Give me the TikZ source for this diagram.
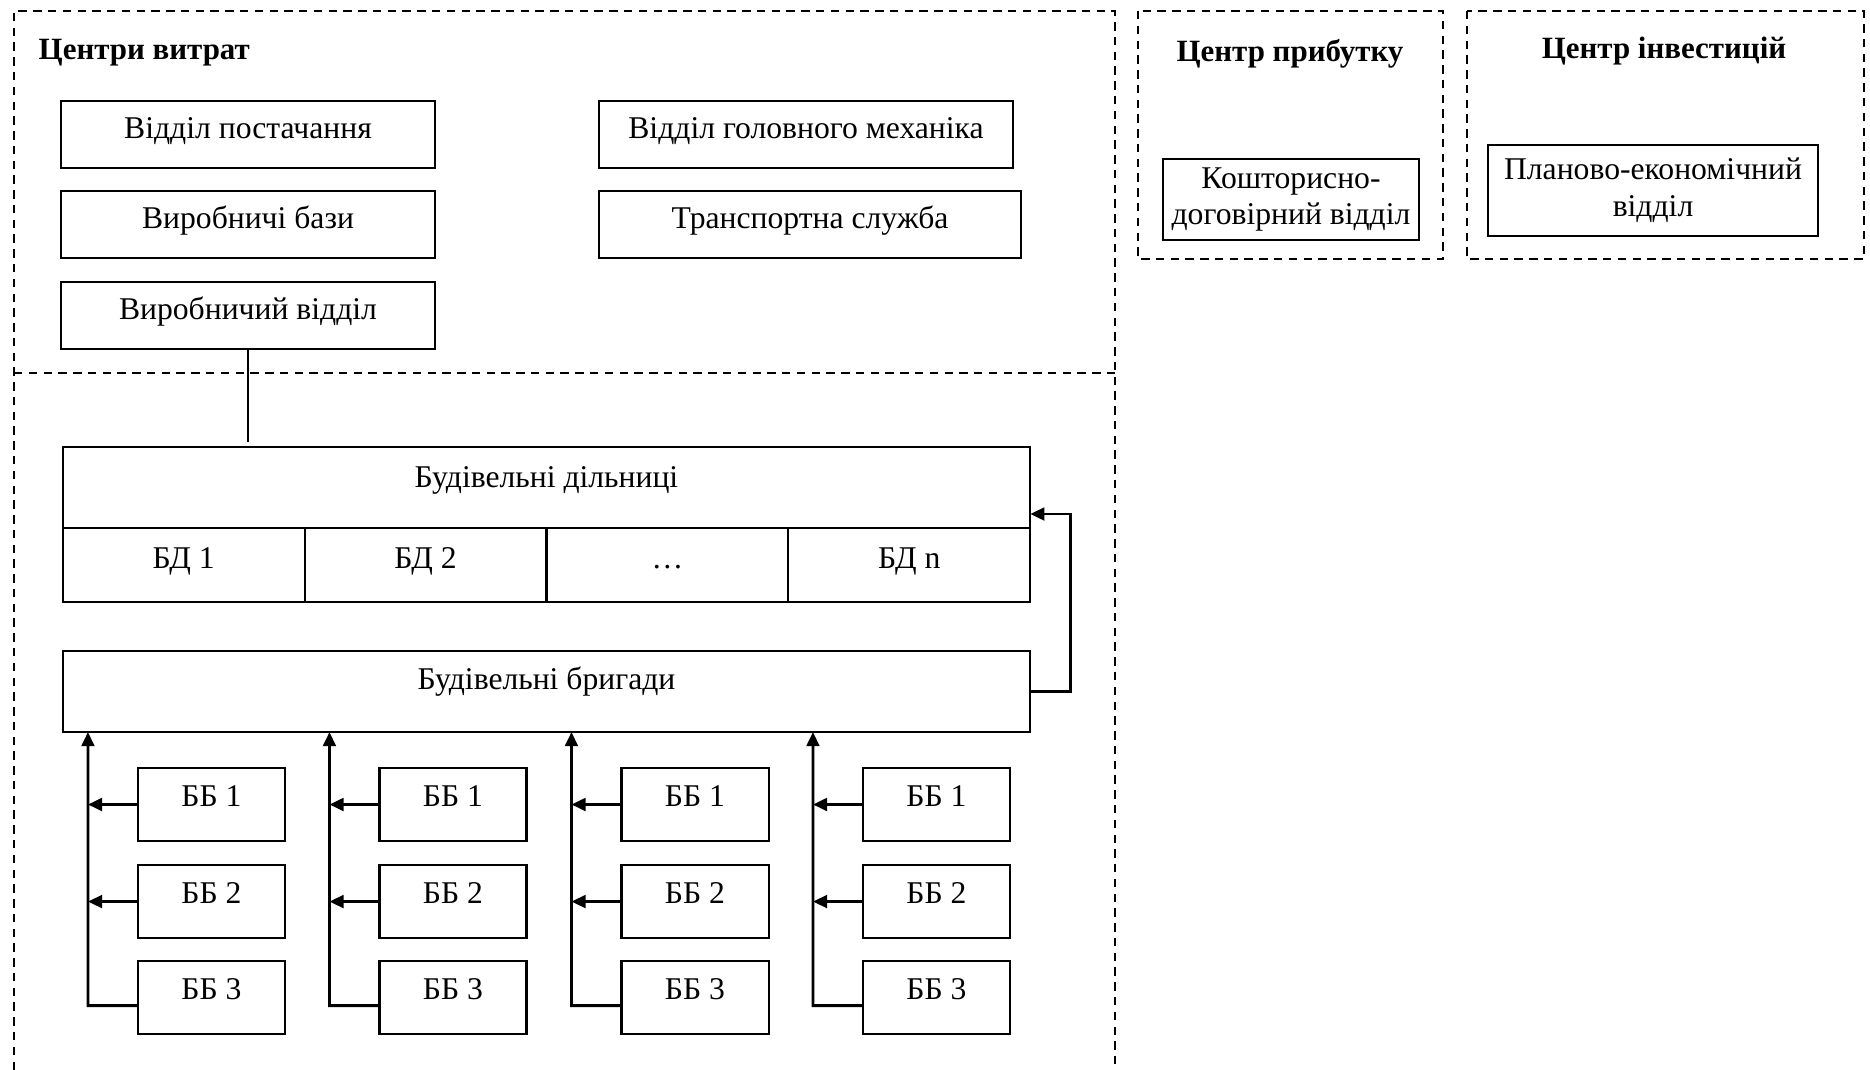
\documentclass[tikz,border=0pt]{standalone}
\usepackage{fontspec}
\setmainfont{Liberation Serif}
\usetikzlibrary{arrows.meta,positioning,calc}

\begin{document}
\begin{tikzpicture}[x=0.01cm, y=-0.01cm,
  unit/.style={draw, line width=0.6pt, outer sep=0pt, align=center, text height=7pt, text depth=5pt, font=\fontsize{9}{10.3}\selectfont},
  dept/.style={unit, minimum width=3.74cm, minimum height=0.67cm},
  cell/.style={unit, minimum width=2.4175cm, minimum height=0.74cm},
  team/.style={unit, minimum width=1.47cm, minimum height=0.73cm, text depth=6pt},
  note/.style={draw, line width=0.6pt, outer sep=0pt, inner sep=1pt, align=center, font=\fontsize{9}{10.4}\selectfont},
  head/.style={inner sep=0pt, font=\fontsize{8.8}{11}\selectfont\bfseries},
  zone/.style={line width=0.45pt, dash pattern=on 2.4pt off 1.8pt},
  arr/.style={line width=0.8pt, -{Triangle[length=4pt,width=3.6pt]}}
]
  \useasboundingbox (0,0) rectangle (1870,1070);
  % cost centres
  \draw[zone] (14,1070) |- (1115,11) -- (1115,1070);
  \draw[zone] (14,373) -- (1115,373);
  \node[head, anchor=west] (costs) at (38,53) {Центри витрат};
  \node[dept] (supply) at (248,134.5) {Відділ постачання};
  \node[dept, below=0.23cm of supply] (bases) {Виробничі бази};
  \node[dept, below=0.24cm of bases] (prod) {Виробничий відділ};
  \node[dept, minimum width=4.14cm] (mech) at (806,134.5) {Відділ головного механіка};
  \node[dept, minimum width=4.22cm, below=0.23cm of mech.south west, anchor=north west] (transp) {Транспортна служба};

  % profit and investment centres
  \draw[zone] (1138,11) rectangle (1443,259);
  \draw[zone] (1467,11) rectangle (1864,259);
  \node[head] (profit) at (1290,54) {Центр прибутку};
  \node[head] (invest) at (1664,51) {Центр інвестицій};
  \node[note, minimum width=2.56cm, minimum height=0.81cm] (estimate) at (1291,199.5) {Кошторисно-\\договірний відділ};
  \node[note, minimum width=3.30cm, minimum height=0.91cm] (plan) at (1653,190.5) {Планово-економічний\\відділ};

  % sites and brigades
  \node[unit, minimum width=9.67cm, minimum height=0.81cm, text depth=7pt] (sites) at (546.5,487.5) {Будівельні дільниці};
  \node[cell, anchor=north west] (bd1) at (sites.south west) {БД 1};
  \node[cell, right=0pt of bd1] (bd2) {БД 2};
  \node[cell, right=0pt of bd2] (bd3) {\dots};
  \node[cell, right=0pt of bd3] (bd4) {БД n};
  \node[unit, minimum width=9.67cm, minimum height=0.81cm, text depth=8pt] (brigades) at (546.5,691.5) {Будівельні бригади};
  \draw[line width=0.6pt, shorten >=0.05cm] (prod) -- (prod |- sites.north);
  \coordinate (back) at ($(sites.east)+(0,26.5)$);
  \draw[arr] (brigades.east) -- ++(40,0) |- (back);

  \node[team] (b11) at (211.5,804.5) {ББ 1};
  \node[team, below=0.24cm of b11] (b12) {ББ 2};
  \node[team, below=0.23cm of b12] (b13) {ББ 3};
  \node[team] (b21) at (453,804.5) {ББ 1};
  \node[team, below=0.24cm of b21] (b22) {ББ 2};
  \node[team, below=0.23cm of b22] (b23) {ББ 3};
  \node[team] (b31) at (695,804.5) {ББ 1};
  \node[team, below=0.24cm of b31] (b32) {ББ 2};
  \node[team, below=0.23cm of b32] (b33) {ББ 3};
  \node[team] (b41) at (936.5,804.5) {ББ 1};
  \node[team, below=0.24cm of b41] (b42) {ББ 2};
  \node[team, below=0.23cm of b42] (b43) {ББ 3};

  \coordinate (s1) at ($(b13.west)+(-50,8)$);
  \coordinate (s2) at ($(b23.west)+(-50,8)$);
  \coordinate (s3) at ($(b33.west)+(-50,8)$);
  \coordinate (s4) at ($(b43.west)+(-50,8)$);
  \draw[arr] ([yshift=-0.08cm]b13.west) -- (s1) -- (s1 |- brigades.south);
  \draw[arr] ([yshift=-0.08cm]b23.west) -- (s2) -- (s2 |- brigades.south);
  \draw[arr] ([yshift=-0.08cm]b33.west) -- (s3) -- (s3 |- brigades.south);
  \draw[arr] ([yshift=-0.08cm]b43.west) -- (s4) -- (s4 |- brigades.south);
  \draw[arr] (b11) -- (b11 -| s1); \draw[arr] (b12) -- (b12 -| s1);
  \draw[arr] (b21) -- (b21 -| s2); \draw[arr] (b22) -- (b22 -| s2);
  \draw[arr] (b31) -- (b31 -| s3); \draw[arr] (b32) -- (b32 -| s3);
  \draw[arr] (b41) -- (b41 -| s4); \draw[arr] (b42) -- (b42 -| s4);
\end{tikzpicture}
\end{document}
